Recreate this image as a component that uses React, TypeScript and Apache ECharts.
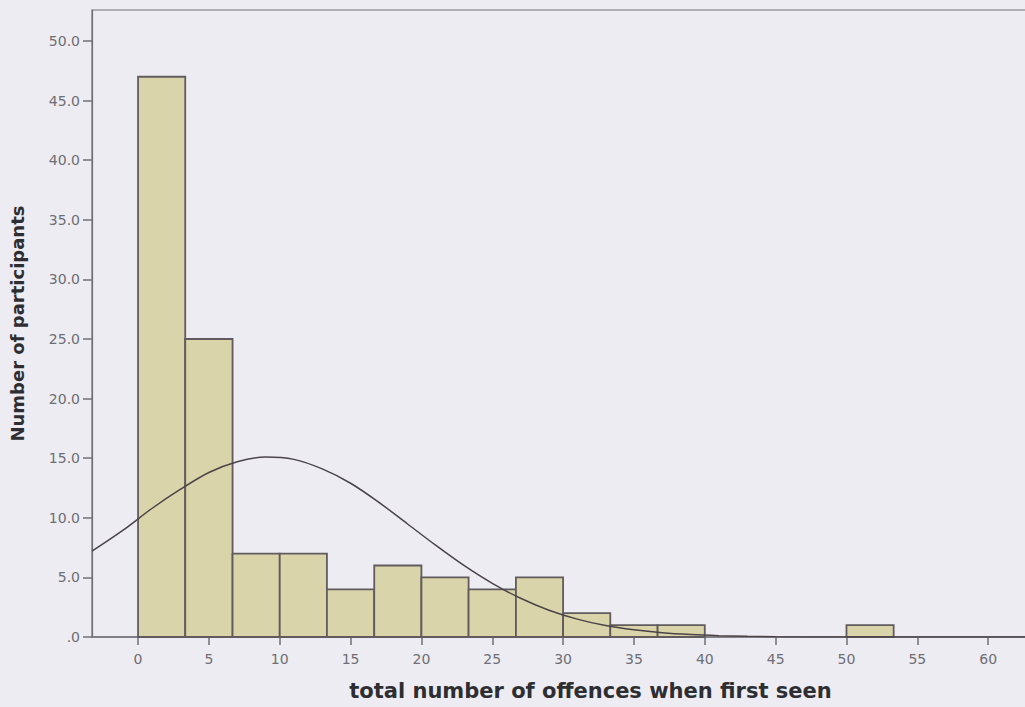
import React, { useEffect, useRef } from "react";
import * as echarts from "echarts";

// Histogram bins (bin width 10/3)
const binLow = [0, 3.33, 6.67, 10, 13.33, 16.67, 20, 23.33, 26.67, 30, 33.33, 36.67, 40, 43.33, 46.67, 50];
const binHigh = [3.33, 6.67, 10, 13.33, 16.67, 20, 23.33, 26.67, 30, 33.33, 36.67, 40, 43.33, 46.67, 50, 53.33];
const counts = [47, 25, 7, 7, 4, 6, 5, 4, 5, 2, 1, 1, 0, 0, 0, 1];

// Normal curve
const curveX = [-3.25, -1, 1, 3, 5, 7, 9, 11, 13, 15, 17, 19, 21, 23, 25, 27, 29, 31, 33, 35, 37, 39, 41, 43, 45, 50, 55, 60, 65];
const curveY = [7.2, 9.0, 10.8, 12.4, 13.8, 14.7, 15.1, 14.9, 14.1, 12.9, 11.3, 9.5, 7.7, 6.0, 4.5, 3.25, 2.25, 1.5, 0.96, 0.6, 0.35, 0.2, 0.11, 0.06, 0.03, 0, 0, 0, 0];

const xTicks = [0, 5, 10, 15, 20, 25, 30, 35, 40, 45, 50, 55, 60];
const yTicks = [0, 5, 10, 15, 20, 25, 30, 35, 40, 45, 50];

const xTitle = "total number of offences when first seen";
const yTitle = "Number of participants";

export default function App() {
  const ref = useRef<HTMLDivElement>(null);
  useEffect(() => {
    if (!ref.current) return;
    const chart = echarts.init(ref.current, null, { renderer: "svg" });
    const axisColor = "#707078";
    const textColor = "#6e6e74";
    const barData = counts.map((c, i) => [binLow[i], binHigh[i], c]);
    chart.setOption({
      animation: false,
      backgroundColor: "#ececf2",
      grid: {
        left: 92,
        top: 10,
        right: 11,
        bottom: 70,
        show: true,
        borderColor: axisColor,
        borderWidth: 1.2,
        backgroundColor: "transparent",
      },
      xAxis: {
        type: "value",
        min: -3.25,
        max: 65,
        splitLine: { show: false },
        axisLine: { lineStyle: { color: axisColor, width: 1.5 }, onZero: false },
        axisTick: {
          show: true,
          inside: false,
          length: 8,
          customValues: xTicks,
          lineStyle: { color: axisColor, width: 1.5 },
        },
        axisLabel: {
          customValues: xTicks,
          color: textColor,
          fontFamily: "DejaVu Sans",
          fontSize: 14,
          margin: 15,
        },
        name: xTitle,
        nameLocation: "middle",
        nameGap: 43,
        nameTextStyle: {
          color: "#2e2e32",
          fontFamily: "DejaVu Sans",
          fontWeight: "bold",
          fontSize: 21,
          padding: [0, 0, 0, 30],
        },
      },
      yAxis: {
        type: "value",
        min: 0,
        max: 52.6,
        splitLine: { show: false },
        axisLine: { show: true, onZero: false, lineStyle: { color: axisColor, width: 1.2 } },
        axisTick: {
          show: true,
          length: 9,
          customValues: yTicks,
          lineStyle: { color: axisColor, width: 1.5 },
        },
        axisLabel: {
          customValues: yTicks,
          color: textColor,
          fontFamily: "DejaVu Sans",
          fontSize: 14,
          margin: 12,
          formatter: (v: number) => (v === 0 ? ".0" : v.toFixed(1)),
        },
        name: yTitle,
        nameLocation: "middle",
        nameGap: 66,
        nameTextStyle: {
          color: "#2e2e32",
          fontFamily: "DejaVu Sans",
          fontWeight: "bold",
          fontSize: 18,
        },
      },
      series: [
        {
          type: "custom",
          data: barData,
          encode: { x: [0, 1], y: 2 },
          renderItem: (params: any, api: any) => {
            const c = api.value(2);
            if (!c) return null;
            const p0 = api.coord([api.value(0), 0]);
            const p1 = api.coord([api.value(1), c]);
            return {
              type: "rect",
              shape: { x: p0[0], y: p1[1], width: p1[0] - p0[0], height: p0[1] - p1[1] },
              style: { fill: "#d9d4aa", stroke: "#625b5d", lineWidth: 1.8 },
            };
          },
          z: 2,
        },
        {
          type: "line",
          data: curveX.map((x, i) => [x, curveY[i]]),
          smooth: 0.3,
          showSymbol: false,
          symbol: "none",
          lineStyle: { color: "#4a4448", width: 1.5 },
          z: 3,
        },
      ],
    });
    return () => chart.dispose();
  }, []);
  return (
    <div style={{ position: "absolute", left: 0, top: 0, width: 1025, height: 707, overflow: "hidden" }}>
      <div ref={ref} style={{ width: 1070, height: 707 }} />
    </div>
  );
}
